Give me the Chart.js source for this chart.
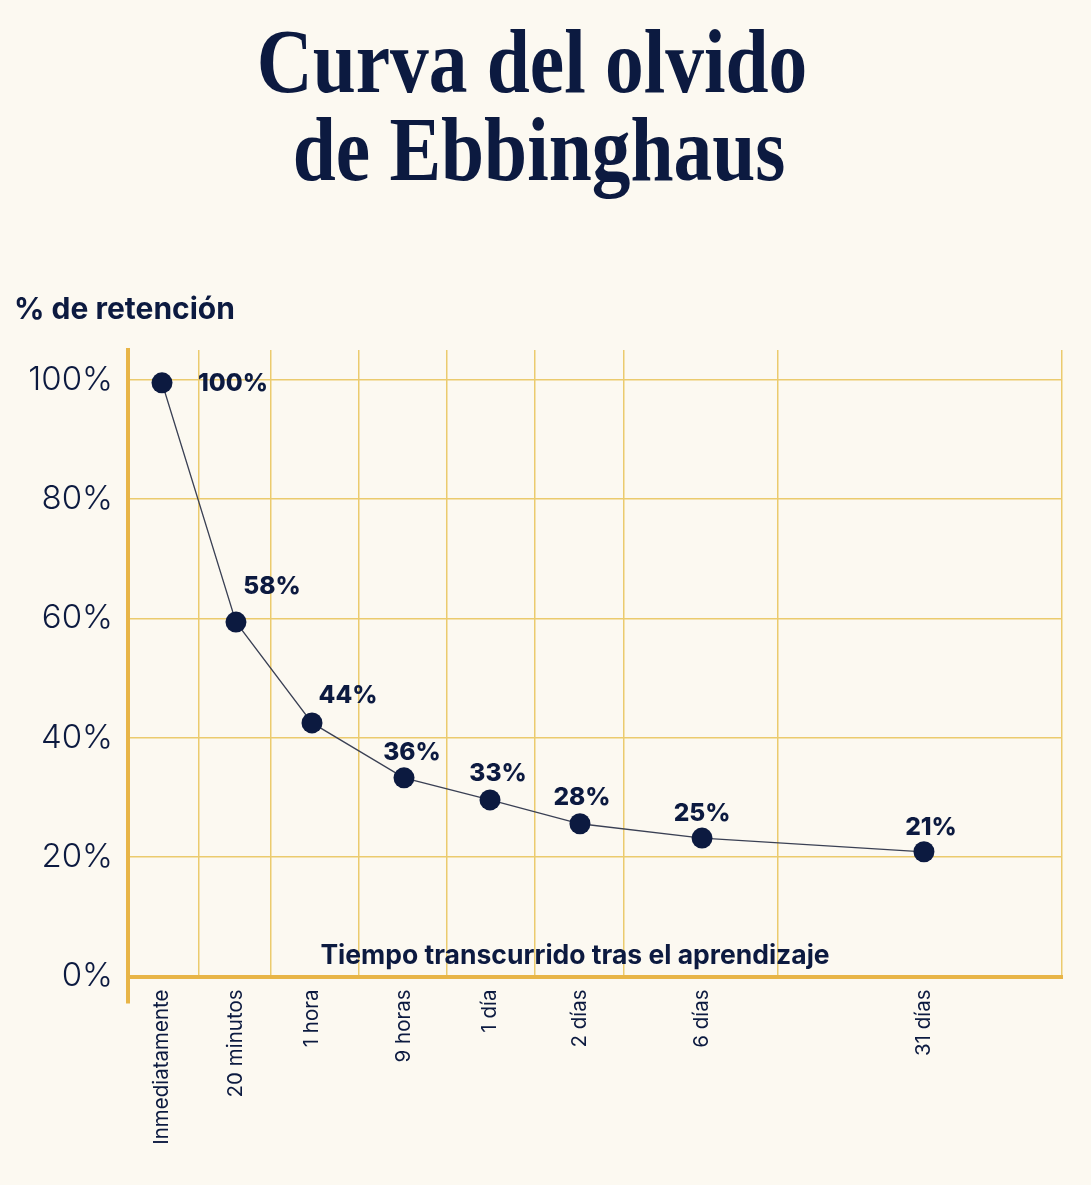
<!DOCTYPE html>
<html>
<head>
<meta charset="utf-8">
<script src="https://cdn.jsdelivr.net/npm/chart.js@4.4.1/dist/chart.umd.min.js"></script>
<style>
  html, body { margin: 0; padding: 0; background: #fcf9f1; }
  #wrap { position: relative; width: 1091px; height: 1185px; }
</style>
</head>
<body>
<div id="wrap"><canvas id="c"></canvas></div>
<script>
// ---- data ----
const titleLines = ['Curva del olvido', 'de Ebbinghaus'];
const yAxisCaption = '% de retención';
const xAxisCaption = 'Tiempo transcurrido tras el aprendizaje';
const timeLabels = ['Inmediatamente', '20 minutos', '1 hora', '9 horas', '1 día', '2 días', '6 días', '31 días'];
// position of each moment along the (non-uniform) time axis, 0..100
const timePositions = [3.64, 11.56, 19.7, 29.55, 38.76, 48.39, 61.46, 85.22];
// vertical guide lines along the time axis
const gridPositions = [7.6, 15.31, 24.73, 34.15, 43.58, 53.1, 69.59, 100];
// plotted retention (%) as drawn
const retention = [99.5, 59.4, 42.5, 33.3, 29.6, 25.6, 23.2, 20.9];
// printed value labels
const retentionLabels = ['100%', '58%', '44%', '36%', '33%', '28%', '25%', '21%'];
const yTicks = [0, 20, 40, 60, 80, 100];

// ---- styles ----
const NAVY = '#0c1a40';
const AXIS = '#e8b547';
const GRID = '#ebcb6e';
const labelOffsets = [[71, 1], [36, -35], [36, -27], [8, -25], [8, -26], [2, -26], [0, -24], [7, -24]];

const textPlugin = {
  id: 'texts',
  afterDraw(chart) {
    const ctx = chart.ctx;
    const area = chart.chartArea;
    ctx.save();
    // title (condensed serif)
    ctx.fillStyle = NAVY;
    ctx.textAlign = 'center';
    ctx.textBaseline = 'alphabetic';
    ctx.font = 'bold 90px "Liberation Serif", "DejaVu Serif", serif';
    const baselines = [92, 180];
    const centers = [532, 539];
    titleLines.forEach((t, i) => {
      ctx.save();
      ctx.translate(centers[i], baselines[i]);
      ctx.scale(0.86, 1);
      ctx.fillText(t, 0, 0);
      ctx.restore();
    });
    // y caption
    ctx.textAlign = 'left';
    ctx.font = '700 30px Inter, "Noto Sans", sans-serif';
    ctx.fillText(yAxisCaption, 14, 319);
    // x caption inside the plot
    ctx.textAlign = 'center';
    ctx.font = '700 26.5px Inter, "Noto Sans", sans-serif';
    ctx.fillText(xAxisCaption, 575, area.bottom - 13);
    // y axis extension below the x axis
    ctx.strokeStyle = AXIS;
    ctx.lineWidth = 4;
    ctx.beginPath();
    ctx.moveTo(area.left, area.bottom);
    ctx.lineTo(area.left, area.bottom + 27);
    ctx.stroke();
    ctx.restore();
  },
  afterDatasetsDraw(chart) {
    const ctx = chart.ctx;
    const meta = chart.getDatasetMeta(0);
    ctx.save();
    ctx.fillStyle = NAVY;
    ctx.textAlign = 'center';
    ctx.textBaseline = 'middle';
    ctx.font = '800 24.5px Inter, "Noto Sans", sans-serif';
    meta.data.forEach((pt, i) => {
      const o = labelOffsets[i];
      ctx.fillText(retentionLabels[i], pt.x + o[0], pt.y + o[1]);
    });
    ctx.restore();
  }
};

new Chart(document.getElementById('c'), {
  type: 'line',
  data: {
    datasets: [{
      data: timePositions.map((x, i) => ({ x: x, y: retention[i] })),
      borderColor: '#3a4054',
      borderWidth: 1.3,
      tension: 0,
      pointRadius: 10.5,
      pointHoverRadius: 10.5,
      pointBackgroundColor: NAVY,
      pointBorderWidth: 0,
      clip: false
    }]
  },
  options: {
    responsive: true,
    maintainAspectRatio: false,
    animation: false,
    events: [],
    layout: { padding: { top: 350, right: 29, left: 0, bottom: 0 } },
    plugins: { legend: { display: false }, tooltip: { enabled: false }, title: { display: false } },
    scales: {
      x: {
        type: 'linear',
        position: 'bottom',
        min: 0,
        max: 100,
        afterBuildTicks: s => { s.ticks = timePositions.map(v => ({ value: v })); },
        afterFit: s => { s.height = 208.5; },
        grid: { display: false, drawTicks: false },
        border: { display: true, color: AXIS, width: 4 },
        ticks: {
          autoSkip: false,
          minRotation: 90,
          maxRotation: 90,
          padding: 13,
          color: NAVY,
          font: { family: 'Inter, "Noto Sans", sans-serif', size: 20.5, weight: '400' },
          callback: (v, i) => timeLabels[i]
        }
      },
      xg: {
        type: 'linear',
        position: 'top',
        min: 0,
        max: 100,
        afterBuildTicks: s => { s.ticks = gridPositions.map(v => ({ value: v })); },
        afterFit: s => { s.height = 0; },
        grid: { color: GRID, lineWidth: 1.5, drawTicks: false },
        border: { display: false },
        ticks: { display: false }
      },
      y: {
        min: 0,
        max: 105,
        afterBuildTicks: s => { s.ticks = yTicks.map(v => ({ value: v })); },
        afterFit: s => { s.width = 128; },
        grid: {
          color: c => (c.tick && c.tick.value === 0 ? 'rgba(0,0,0,0)' : GRID),
          lineWidth: 1.5,
          drawTicks: false
        },
        border: { display: true, color: AXIS, width: 4 },
        ticks: {
          padding: 15,
          color: NAVY,
          font: { family: 'Inter, "Noto Sans", sans-serif', size: 33, weight: '300' },
          callback: v => v + '%'
        }
      }
    }
  },
  plugins: [textPlugin]
});
</script>
</body>
</html>
